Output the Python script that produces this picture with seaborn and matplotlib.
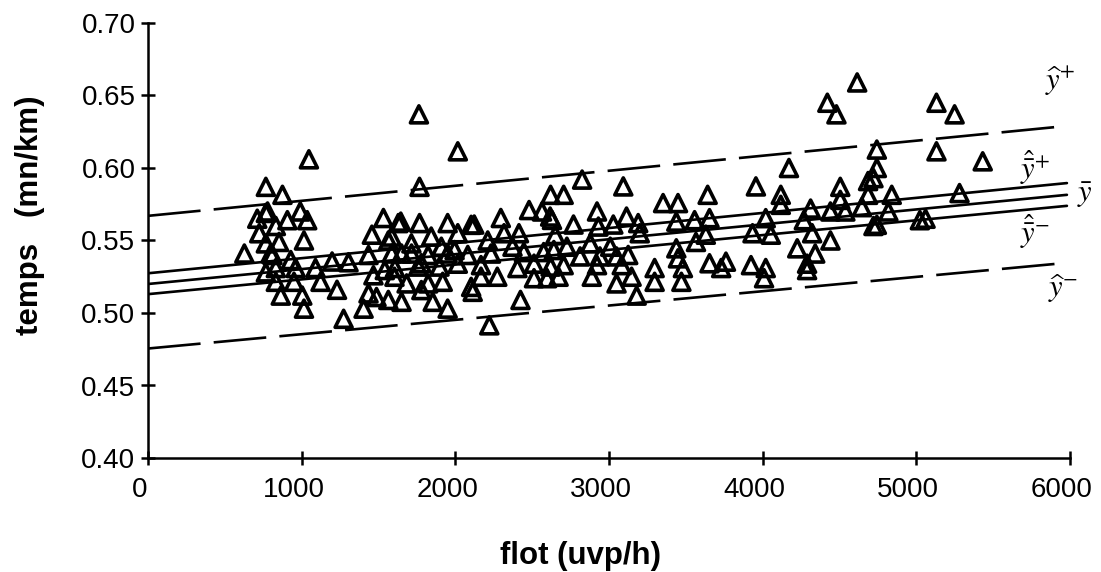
import matplotlib
matplotlib.use("Agg")
import matplotlib.pyplot as plt
import matplotlib.transforms as mtransforms
import seaborn as sns
import pandas as pd

# ---- data ----
flot = [627, 711, 724, 767, 767, 767, 778, 798, 767, 810, 832, 832, 832, 853, 864, 875, 907, 929, 950, 961,
        991, 1004, 1015, 1015, 1036, 1047, 1090, 1123, 1198, 1230, 1305, 1273,
        1403, 1435, 1435, 1457, 1467, 1487, 1532, 1541, 1564, 1564, 1585, 1586, 1604, 1607, 1629, 1645, 1650, 1650,
        1683, 1714, 1715, 1758, 1763, 1767, 1767, 1779, 1779, 1823, 1823, 1843, 1853, 1897, 1909, 1918, 1950, 1950,
        1950, 1995, 2016, 2016, 2016, 2081, 2103, 2103, 2113,
        2123, 2167, 2167, 2211, 2221, 2232, 2273, 2296, 2317, 2372, 2404, 2414, 2424, 2446, 2480, 2512, 2512, 2564,
        2575, 2597, 2617, 2620, 2620, 2629, 2641, 2650, 2672,
        2705, 2705, 2726, 2769, 2812, 2825, 2878, 2888, 2922, 2922, 2931, 2941, 3008, 3028, 3049, 3049, 3083, 3093,
        3114, 3125, 3147, 3180, 3190, 3200, 3297, 3297, 3352, 3438, 3438, 3449, 3449, 3471, 3481, 3557, 3566, 3630,
        3642, 3654, 3654,
        3730, 3761, 3924, 3934, 3956, 4009, 4020, 4020, 4053, 4118, 4118, 4171, 4225, 4268, 4289, 4289, 4312, 4322,
        4342, 4421, 4441, 4441, 4480, 4505, 4505, 4538, 4615, 4646, 4686, 4686, 4721, 4721, 4743, 4743, 4743, 4818,
        4840,
        5023, 5060, 5131, 5131, 5249, 5281, 5432]
temps = [0.541, 0.565, 0.555, 0.587, 0.569, 0.548, 0.570, 0.541, 0.528, 0.540, 0.560, 0.531, 0.5215, 0.549, 0.512,
         0.5815, 0.564, 0.5365, 0.5215, 0.531,
         0.570, 0.512, 0.550, 0.503, 0.564, 0.606, 0.531, 0.5215, 0.5355, 0.516, 0.535, 0.496,
         0.503, 0.5135, 0.540, 0.554, 0.526, 0.511, 0.5655, 0.5296, 0.550, 0.509, 0.5527, 0.541, 0.525, 0.531, 0.562,
         0.563, 0.541, 0.5077,
         0.5204, 0.548, 0.541, 0.532, 0.637, 0.587, 0.562, 0.5343, 0.5158, 0.540, 0.5204, 0.5527, 0.5077, 0.532,
         0.5457, 0.5215, 0.562, 0.541,
         0.503, 0.5434, 0.6115, 0.555, 0.534, 0.540, 0.5608, 0.518, 0.5146,
         0.561, 0.533, 0.525, 0.550, 0.4915, 0.541, 0.525, 0.5655, 0.555, 0.5457, 0.531, 0.555, 0.509, 0.542, 0.571,
         0.534, 0.524, 0.570,
         0.542, 0.524, 0.5665, 0.5815, 0.532, 0.5642, 0.5434, 0.5538, 0.525,
         0.5815, 0.533, 0.5457, 0.561, 0.539, 0.592, 0.548, 0.525, 0.570, 0.533, 0.5596, 0.539, 0.5457, 0.561, 0.539,
         0.5204, 0.533, 0.5873,
         0.5665, 0.540, 0.525, 0.512, 0.562, 0.555, 0.531, 0.5215, 0.5758, 0.563, 0.5446, 0.5758, 0.5377, 0.5215,
         0.531, 0.564, 0.549, 0.554,
         0.5815, 0.5654, 0.5343,
         0.531, 0.5354, 0.533, 0.555, 0.5873, 0.524, 0.5654, 0.531, 0.554, 0.5815, 0.5746, 0.600, 0.5446, 0.564,
         0.534, 0.5296, 0.572, 0.555,
         0.541, 0.645, 0.570, 0.550, 0.637, 0.587, 0.578, 0.570, 0.659, 0.573, 0.591, 0.5815, 0.593, 0.560, 0.6127,
         0.600, 0.5608, 0.570,
         0.5815,
         0.564, 0.565, 0.645, 0.6115, 0.637, 0.5827, 0.6046]

line_x = [0, 5980]
y_hat_plus = [0.567, 0.629]
y_hatbar_plus = [0.5274, 0.5896]
y_bar = [0.520, 0.5815]
y_hatbar_minus = [0.513, 0.5739]
y_hat_minus = [0.4755, 0.5346]

x_ticks = [0, 1000, 2000, 3000, 4000, 5000, 6000]
y_ticks = [0.40, 0.45, 0.50, 0.55, 0.60, 0.65, 0.70]

# ---- plot ----
sns.set_theme(style="white")
plt.rcParams['font.family'] = ['Liberation Sans', 'DejaVu Sans']

fig = plt.figure(figsize=(11.01, 5.72), dpi=100)
ax = fig.add_axes([148 / 1101, 114 / 572, 922 / 1101, 435 / 572])

pts = pd.DataFrame({"flot": flot, "temps": temps})
sns.scatterplot(data=pts, x="flot", y="temps", marker="^", s=150, facecolor="none",
                edgecolor="black", linewidth=2.6, ax=ax, zorder=3)

dash = (0, (20, 5))
for yv, ls in [(y_hat_plus, dash), (y_hatbar_plus, "-"), (y_bar, "-"),
               (y_hatbar_minus, "-"), (y_hat_minus, dash)]:
    sns.lineplot(x=line_x, y=yv, color="black", linewidth=1.9, linestyle=ls, ax=ax, zorder=2)

ax.set_xlim(0, 6000)
ax.set_ylim(0.40, 0.70)
ax.set_xticks(x_ticks)
ax.set_yticks(y_ticks)
ax.set_xticklabels([str(v) for v in x_ticks])
ax.set_yticklabels([f"{v:.2f}" for v in y_ticks])

for s in ["top", "right"]:
    ax.spines[s].set_visible(False)
for s in ["left", "bottom"]:
    ax.spines[s].set_linewidth(1.8)
    ax.spines[s].set_color("black")
ax.tick_params(axis="both", direction="inout", length=10, width=1.8, color="black",
               labelsize=20, labelcolor="black")
ax.tick_params(axis="y", pad=4)
ax.tick_params(axis="x", pad=9)
ax.tick_params(left=True, bottom=True)

# the x tick labels sit a little left of their ticks in the reference
shift = mtransforms.ScaledTranslation(-8 / 100, 0, fig.dpi_scale_trans)
for lab in ax.get_xticklabels():
    lab.set_transform(lab.get_transform() + shift)

ax.set_xlabel("flot (uvp/h)", fontsize=22.5, fontweight="bold", color="black")
ax.set_ylabel("temps   (mn/km)", fontsize=22.5, fontweight="bold", color="black")
ax.xaxis.set_label_coords((581 - 148) / 922, -(556 - 458) / 435)
ax.xaxis.label.set_va("center")
ax.yaxis.set_label_coords(-(148 - 30) / 922, (458 - 215) / 435)
ax.yaxis.label.set_va("center")

lab_kw = dict(fontsize=22, color="black", ha="center", va="center", math_fontfamily="stix", clip_on=False)
ax.text(5934, 0.660, r"$\widehat{y}^{+}$", **lab_kw)
ax.text(5774, 0.600, r"$\hat{\bar{y}}^{+}$", **lab_kw)
ax.text(6096, 0.5815, r"$\bar{y}$", **lab_kw)
ax.text(5774, 0.556, r"$\hat{\bar{y}}^{-}$", **lab_kw)
ax.text(5952, 0.517, r"$\widehat{y}^{-}$", **lab_kw)

fig.savefig("out.png", dpi=100)
